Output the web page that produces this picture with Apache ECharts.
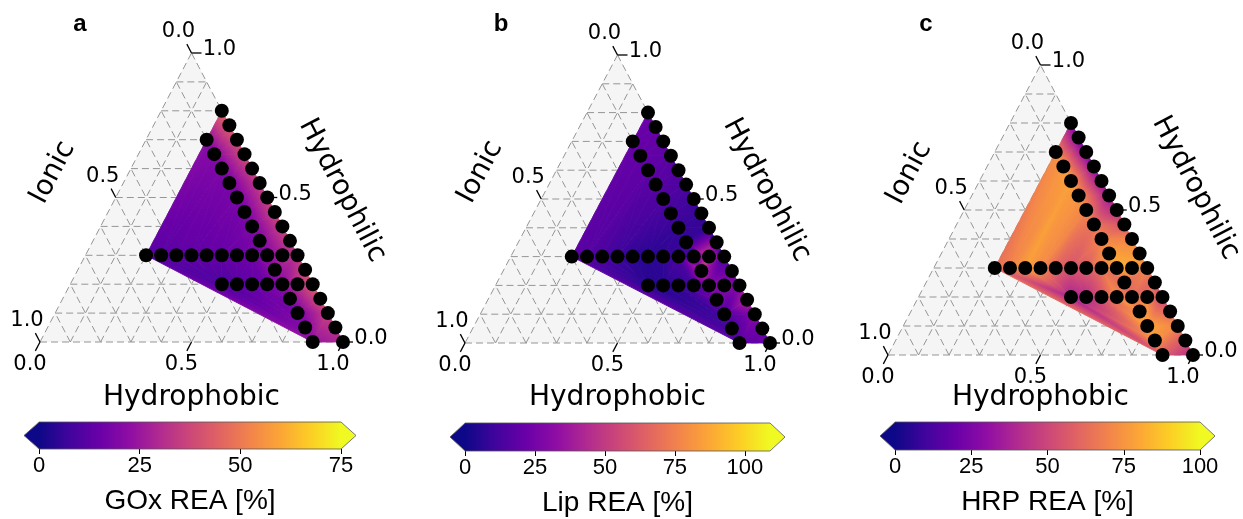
<!DOCTYPE html>
<html><head><meta charset="utf-8">
<script src="https://cdn.jsdelivr.net/npm/echarts@6/dist/echarts.min.js"></script>
<style>html,body{margin:0;padding:0;background:#fff}#c{width:1243px;height:519px}</style>
</head><body><div id="c"></div>
<script>
// ---- compositions of the measured points (fractions) ----
const edgeIonic = 0.0;
const edgeHydrophilic = [0.80,0.75,0.70,0.65,0.60,0.55,0.50,0.45,0.40,0.35,0.30,0.25,0.20,0.15,0.10,0.05,0.00];
const diagIonic = 0.1;
const diagHydrophilic = [0.70,0.65,0.60,0.55,0.50,0.45,0.40,0.35,0.30,0.25,0.20,0.15,0.10,0.05,0.00];
const row30Hydrophilic = 0.3;
const row30Ionic = [0.50,0.45,0.40,0.35,0.30,0.25,0.20,0.15,0.05];
const row20Hydrophilic = 0.2;
const row20Ionic = [0.30,0.25,0.20,0.15,0.05];

// ---- REA values [%] at those points ----
const goxEdge  = [45,43,40,38,36,35,36,37,36,34,33,38,42,40,36,32,30];
const goxDiag  = [22,20,19,18,18,18,19,20,21,24,22,20,18,20,24];
const goxRow30 = [12,12,13,13,14,14,15,16,28];
const goxRow20 = [10,12,14,16,32];

const lipEdge  = [22,21,20,18,16,14,11,9,8,9,14,22,30,45,30,24,22];
const lipDiag  = [21,20,19,17,15,12,9,8,12,45,30,25,15,12,18];
const lipRow30 = [18,16,13,10,7,6,8,14,55];
const lipRow20 = [6,6,8,12,30];

const hrpEdge  = [30,26,27,30,32,35,40,55,70,75,70,60,50,60,70,55,40];
const hrpDiag  = [72,76,78,75,70,65,70,78,80,62,62,75,80,75,58];
const hrpRow30 = [63,70,78,72,60,55,58,65,82];
const hrpRow20 = [38,42,55,72,70];

// ---- axes ----
const gridFractions = [0.0,0.1,0.2,0.3,0.4,0.5,0.6,0.7,0.8,0.9];
const ternTicks = [0.0,0.5,1.0];
const ternTickLabels = ['0.0','0.5','1.0'];
const goxMax = 75, lipMax = 109, hrpMax = 100;
const goxTicks = [0,25,50,75];
const lipTicks = [0,25,50,75,100];
const hrpTicks = [0,25,50,75,100];

const plasmaStops = ['#0d0887','#41049d','#6a00a8','#8f0da4','#b12a90','#cc4778','#e16462','#f2844b','#fca636','#fcce25','#f0f921'];
const lut = plasmaStops.map(c=>[parseInt(c.slice(1,3),16),parseInt(c.slice(3,5),16),parseInt(c.slice(5,7),16)]);
function plasma(t){
  t=Math.max(0,Math.min(1,t)); const f=t*10; const i=Math.min(9,Math.floor(f)); const u=f-i;
  const a=lut[i], b=lut[i+1];
  return 'rgb('+[0,1,2].map(k=>Math.round(a[k]+(b[k]-a[k])*u)).join(',')+')';
}

function buildPoints(vals){
  const pts=[];
  edgeHydrophilic.forEach((h,i)=>pts.push({ion:edgeIonic, phil:h, v:vals[0][i]}));
  diagHydrophilic.forEach((h,i)=>pts.push({ion:diagIonic, phil:h, v:vals[1][i]}));
  row30Ionic.forEach((io,i)=>pts.push({ion:io, phil:row30Hydrophilic, v:vals[2][i]}));
  row20Ionic.forEach((io,i)=>pts.push({ion:io, phil:row20Hydrophilic, v:vals[3][i]}));
  pts.forEach(p=>{p.phob=1-p.ion-p.phil; p.x=p.phob+p.phil/2; p.y=p.phil;});
  return pts;
}

// Delaunay (Bowyer-Watson) on equilateral ternary geometry
function delaunay(pts){
  const n=pts.length;
  const P=pts.map((p,i)=>[p.x+1e-6*Math.sin(i*12.9898), p.y*0.8660254+1e-6*Math.cos(i*78.233)]);
  const D=100;
  P.push([-2*D,-D],[0.5,2*D],[2*D,-D]);
  function inCirc(t,px,py){
    const A=P[t[0]],B=P[t[1]],C=P[t[2]];
    const adx=A[0]-px, ady=A[1]-py, bdx=B[0]-px, bdy=B[1]-py, cdx=C[0]-px, cdy=C[1]-py;
    const det=(adx*adx+ady*ady)*(bdx*cdy-cdx*bdy)-(bdx*bdx+bdy*bdy)*(adx*cdy-cdx*ady)+(cdx*cdx+cdy*cdy)*(adx*bdy-bdx*ady);
    const o=(B[0]-A[0])*(C[1]-A[1])-(B[1]-A[1])*(C[0]-A[0]);
    return o>0 ? det>1e-14 : det<-1e-14;
  }
  let tris=[[n,n+1,n+2]];
  for(let i=0;i<n;i++){
    const px=P[i][0], py=P[i][1];
    const bad=[], keep=[];
    for(const t of tris) (inCirc(t,px,py)?bad:keep).push(t);
    const edges=new Map();
    for(const t of bad){
      for(const [a,b] of [[t[0],t[1]],[t[1],t[2]],[t[2],t[0]]]){
        const k=a<b?a+','+b:b+','+a;
        if(edges.has(k)) edges.get(k).c++; else edges.set(k,{a,b,c:1});
      }
    }
    for(const e of edges.values()) if(e.c===1) keep.push([e.a,e.b,i]);
    tris=keep;
  }
  return tris.filter(t=>t[0]<n&&t[1]<n&&t[2]<n);
}

function heatRender(vmax){
  return function(params, api){
    const P=[0,1,2].map(k=>api.coord([api.value(2*k),api.value(2*k+1)]));
    const V=[api.value(6),api.value(7),api.value(8)];
    const d1x=P[1][0]-P[0][0], d1y=P[1][1]-P[0][1], d2x=P[2][0]-P[0][0], d2y=P[2][1]-P[0][1];
    const det=d1x*d2y-d1y*d2x;
    if(Math.abs(det)<0.5) return {type:'group',children:[]};
    const dv1=V[1]-V[0], dv2=V[2]-V[0];
    const a=(dv1*d2y-dv2*d1y)/det, b=(d1x*dv2-d2x*dv1)/det;
    const g2=a*a+b*b;
    const vmin=Math.min(...V), vmx=Math.max(...V);
    let fill;
    if(g2<1e-12 || vmx-vmin<1e-6) fill=plasma(V[0]/vmax);
    else{
      const s=P[V.indexOf(vmin)];
      const L=(vmx-vmin)/g2;
      const stops=[];
      for(let k=0;k<=12;k++){const t=k/12; stops.push({offset:t,color:plasma((vmin+t*(vmx-vmin))/vmax)});}
      fill=new echarts.graphic.LinearGradient(s[0],s[1],s[0]+a*L,s[1]+b*L,stops,true);
    }
    return {type:'polygon', shape:{points:P}, style:{fill:fill, stroke:fill, lineWidth:0.9}};
  };
}

function txt(x,y,text,size,family,rot,weight){
  return {type:'text', x:x, y:y, rotation:rot||0,
    style:{text:text, x:0, y:0, fill:'#000', fontSize:size, fontFamily:family, fontWeight:weight||'normal',
      align:'center', verticalAlign:'middle', textAlign:'center', textVerticalAlign:'middle'}};
}

function frameRender(nameOff){
  return function(params, api){
    const C=(x,y)=>api.coord([x,y]);
    const BL=C(0,0), BR=C(1,0), TP=C(0.5,1);
    const ch=[];
    ch.push({type:'polygon', shape:{points:[BL,BR,TP]}, style:{fill:'#f5f5f5'}});
    const gs={stroke:'#959595', lineWidth:1, lineDash:[7,4], fill:null};
    const L=(p,q)=>ch.push({type:'line', shape:{x1:p[0],y1:p[1],x2:q[0],y2:q[1]}, style:gs});
    for(const t of gridFractions){
      L(C(t/2,t), C(1-t/2,t));                 // hydrophilic = t
      L(C(1-t,0), C((1-t)/2,1-t));             // ionic = t
      L(C(t,0), C(t+(1-t)/2,1-t));             // hydrophobic = t
    }
    const unit=(a,b)=>{const dx=b[0]-a[0], dy=b[1]-a[1], l=Math.hypot(dx,dy); return [dx/l,dy/l];};
    const dL=unit(BR,TP), dB=unit(TP,BL);
    const tk={stroke:'#000', lineWidth:1.3};
    const T=(p,d)=>ch.push({type:'line', shape:{x1:p[0],y1:p[1],x2:p[0]+d[0]*10,y2:p[1]+d[1]*10}, style:tk});
    ternTicks.forEach((v,i)=>{
      const pl=C((1-v)/2,1-v); T(pl,dL); ch.push(txt(pl[0]-13,pl[1]-21,ternTickLabels[i],21,'DejaVu Sans'));
      const pr=C(1-v/2,v); T(pr,[1,0]); ch.push(txt(pr[0]+28,pr[1]-3,ternTickLabels[i],21,'DejaVu Sans'));
      const pb=C(v,0); T(pb,dB); ch.push(txt(pb[0]-10,pb[1]+23,ternTickLabels[i],21,'DejaVu Sans'));
    });
    const ml=C(0.25,0.5), mr=C(0.75,0.5), mb=C(0.5,0);
    const rotL=Math.atan2(BL[1]-TP[1], TP[0]-BL[0]);
    const rotR=-Math.atan2(BR[1]-TP[1], BR[0]-TP[0]);
    ch.push(txt(ml[0]+nameOff[0],ml[1]+nameOff[1],'Ionic',28,'DejaVu Sans',rotL));
    ch.push(txt(mr[0]+nameOff[2],mr[1]+nameOff[3],'Hydrophilic',28,'DejaVu Sans',rotR));
    ch.push(txt(mb[0],mb[1]+nameOff[4],'Hydrophobic',28,'DejaVu Sans'));
    return {type:'group', children:ch};
  };
}

function cbRender(vmax){
  return function(params, api){
    const tl=api.coord([0,1]), br=api.coord([vmax,0]);
    const x0=tl[0], y0=tl[1], x1=br[0], y1=br[1], ym=(y0+y1)/2, ext=15;
    const grad=new echarts.graphic.LinearGradient(x0,0,x1,0,plasmaStops.map((c,i)=>({offset:i/10,color:c})),true);
    return {type:'group', children:[
      {type:'rect', shape:{x:x0,y:y0,width:x1-x0,height:y1-y0}, style:{fill:grad}},
      {type:'polygon', shape:{points:[[x0+0.5,y0],[x0-ext,ym],[x0+0.5,y1]]}, style:{fill:plasmaStops[0]}},
      {type:'polygon', shape:{points:[[x1-0.5,y0],[x1+ext,ym],[x1-0.5,y1]]}, style:{fill:plasmaStops[10]}},
      {type:'polygon', shape:{points:[[x0,y0],[x1,y0],[x1+ext,ym],[x1,y1],[x0,y1],[x0-ext,ym]]}, style:{fill:null, stroke:'#555', lineWidth:0.8}}
    ]};
  };
}

const panels=[
  {letter:'a', lx:80, title:'GOx REA [%]', vmax:goxMax, ticks:goxTicks, vals:[goxEdge,goxDiag,goxRow30,goxRow20],
   tri:{left:40,top:53,width:303,height:289}, bar:{left:39,top:422,width:302,height:27}, nameOff:[-63,-25,75,-7,56]},
  {letter:'b', lx:501, title:'Lip REA [%]', vmax:lipMax, ticks:lipTicks, vals:[lipEdge,lipDiag,lipRow30,lipRow20],
   tri:{left:465,top:55,width:305,height:288}, bar:{left:465,top:423,width:305,height:28}, nameOff:[-61,-27,73,-9,55]},
  {letter:'c', lx:926, title:'HRP REA [%]', vmax:hrpMax, ticks:hrpTicks, vals:[hrpEdge,hrpDiag,hrpRow30,hrpRow20],
   tri:{left:888,top:65,width:305,height:290}, bar:{left:895,top:422,width:305,height:28}, nameOff:[-55,-37,79,-22,43]}
];

const grid=[], xAxis=[], yAxis=[], series=[], graphic=[];
panels.forEach((pn,k)=>{
  grid.push(pn.tri);
  xAxis.push({gridIndex:k, type:'value', min:0, max:1, show:false});
  yAxis.push({gridIndex:k, type:'value', min:0, max:1, show:false});
});
panels.forEach((pn,k)=>{
  grid.push(pn.bar);
  xAxis.push({gridIndex:3+k, type:'value', min:0, max:pn.vmax, position:'bottom',
    axisLine:{show:false}, splitLine:{show:false},
    axisTick:{show:true, length:5, lineStyle:{color:'#000', width:1}, customValues:pn.ticks},
    axisLabel:{customValues:pn.ticks, fontSize:22, fontFamily:'Liberation Sans', color:'#000', margin:6},
    name:pn.title, nameLocation:'middle', nameGap:38,
    nameTextStyle:{fontSize:28, fontFamily:'Liberation Sans', color:'#000'}});
  yAxis.push({gridIndex:3+k, type:'value', min:0, max:1, show:false});
});
panels.forEach((pn,k)=>{
  const pts=buildPoints(pn.vals);
  const tris=delaunay(pts);
  series.push({type:'custom', xAxisIndex:k, yAxisIndex:k, z:1, silent:true, data:[[0,0]], renderItem:frameRender(pn.nameOff)});
  series.push({type:'custom', xAxisIndex:k, yAxisIndex:k, z:2, silent:true, clip:false,
    data:tris.map(t=>[pts[t[0]].x,pts[t[0]].y,pts[t[1]].x,pts[t[1]].y,pts[t[2]].x,pts[t[2]].y,pts[t[0]].v,pts[t[1]].v,pts[t[2]].v]),
    renderItem:heatRender(pn.vmax)});
  series.push({type:'scatter', xAxisIndex:k, yAxisIndex:k, z:3, silent:true, clip:false, symbolSize:14,
    itemStyle:{color:'#000', opacity:1}, data:pts.map(p=>[p.x,p.y])});
  series.push({type:'custom', xAxisIndex:3+k, yAxisIndex:3+k, z:1, silent:true, clip:false, data:[[0,0]], renderItem:cbRender(pn.vmax)});
  graphic.push({type:'text', x:pn.lx, y:24, style:{text:pn.letter, fill:'#000', fontSize:24, fontWeight:'bold',
    fontFamily:'Liberation Sans', align:'center', verticalAlign:'middle', textAlign:'center', textVerticalAlign:'middle'}});
});

const chart=echarts.init(document.getElementById('c'),null,{renderer:'canvas'});
chart.setOption({animation:false, backgroundColor:'#fff', grid, xAxis, yAxis, series, graphic});
</script></body></html>
